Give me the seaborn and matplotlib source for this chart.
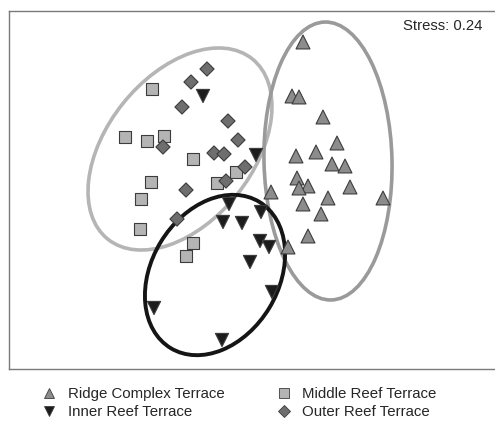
import pandas as pd
import matplotlib
matplotlib.use('Agg')
import matplotlib.pyplot as plt
from matplotlib.patches import Ellipse
from matplotlib.lines import Line2D
import seaborn as sns

# 读取的点坐标 (NMDS 排序, 按图中位置估计)
ridge_x = [303, 292, 299, 323, 337, 316, 296, 332, 345, 297, 308, 299, 350, 271, 328, 303, 383, 321, 308, 288]
ridge_y = [42, 96, 97, 117, 143, 152, 156, 164, 166, 178, 186, 188, 187, 192, 198, 204, 198, 214, 236, 247]

middle_x = [152, 125, 147, 164, 193, 236, 151, 217, 141, 140, 193, 186]
middle_y = [89, 137, 141, 136, 159, 172, 182, 183, 199, 229, 243, 256]

outer_x = [207, 191, 182, 228, 238, 163, 214, 224, 245, 226, 186, 177]
outer_y = [69, 82, 107, 121, 140, 147, 153, 154, 167, 181, 190, 219]

inner_x = [203, 256, 229, 261, 223, 242, 260, 269, 250, 272, 154, 222]
inner_y = [96, 155, 204, 212, 222, 223, 241, 247, 262, 292, 308, 340]

groups = ['Ridge Complex Terrace', 'Inner Reef Terrace', 'Middle Reef Terrace', 'Outer Reef Terrace']

# 椭圆: 中心, 宽, 高, 角度
ell_groups = ['Middle Reef Terrace', 'Ridge Complex Terrace', 'Inner Reef Terrace']
ell_cx = [180, 328, 215]
ell_cy = [149, 161, 275]
ell_w = [231, 278, 171]
ell_h = [146, 128, 127]
ell_angle = [-51.3, 88.7, -58.8]
stress = 0.24

sns.set_style('white')
plt.rcParams['font.family'] = ['Liberation Sans', 'DejaVu Sans']

palette = {'Ridge Complex Terrace': '#8c8c8c', 'Inner Reef Terrace': '#1c1c1c',
           'Middle Reef Terrace': '#b4b4b4', 'Outer Reef Terrace': '#6e6e6e'}
markers = {'Ridge Complex Terrace': '^', 'Inner Reef Terrace': 'v',
           'Middle Reef Terrace': 's', 'Outer Reef Terrace': 'D'}
sizes = {'Ridge Complex Terrace': 100, 'Inner Reef Terrace': 90,
         'Middle Reef Terrace': 72, 'Outer Reef Terrace': 52}
leg_sizes = {'Ridge Complex Terrace': 7.5, 'Inner Reef Terrace': 7.5,
             'Middle Reef Terrace': 6.5, 'Outer Reef Terrace': 5.8}
ell_colors = {'Middle Reef Terrace': '#b5b5b5', 'Ridge Complex Terrace': '#9a9a9a',
              'Inner Reef Terrace': '#151515'}

df = pd.concat([
    pd.DataFrame({'NMDS1': ridge_x, 'NMDS2': ridge_y, 'group': groups[0]}),
    pd.DataFrame({'NMDS1': inner_x, 'NMDS2': inner_y, 'group': groups[1]}),
    pd.DataFrame({'NMDS1': middle_x, 'NMDS2': middle_y, 'group': groups[2]}),
    pd.DataFrame({'NMDS1': outer_x, 'NMDS2': outer_y, 'group': groups[3]}),
], ignore_index=True)

fig = plt.figure(figsize=(4.95, 4.24), dpi=100)
ax = fig.add_axes([9 / 495, 1 - 369 / 424, 485 / 495, 358 / 424])

# 椭圆
for g, cx, cy, w, h, a in zip(ell_groups, ell_cx, ell_cy, ell_w, ell_h, ell_angle):
    lw = 2.8 if g == 'Inner Reef Terrace' else 2.6
    ax.add_patch(Ellipse((cx, cy), w, h, angle=a, fill=False, ec=ell_colors[g], lw=lw, zorder=2))

# 散点
sns.scatterplot(data=df, x='NMDS1', y='NMDS2', hue='group', style='group', size='group',
                palette=palette, markers=markers, sizes=sizes, edgecolor='#3c3c3c',
                linewidth=0.8, legend=False, ax=ax, zorder=3)

ax.set_xlim(9, 494)
ax.set_ylim(369, 11)
ax.set_xticks([])
ax.set_yticks([])
ax.set_xlabel('')
ax.set_ylabel('')
for s in ['left', 'top', 'bottom']:
    ax.spines[s].set_color('#7a7a7a')
    ax.spines[s].set_linewidth(1.0)
ax.spines['right'].set_visible(False)

fig.text(482 / 495, 1 - 29.5 / 424, f'Stress: {stress}', ha='right', va='baseline', fontsize=10.7)

# 图例
handles = [Line2D([], [], ls='none', marker=markers[g], markersize=leg_sizes[g],
                  markerfacecolor=palette[g], markeredgecolor='#3c3c3c', markeredgewidth=0.6)
           for g in groups]
fig.legend(handles, groups, ncol=2, loc='upper left', bbox_to_anchor=(41.5 / 495, 1 - 387 / 424),
           frameon=False, fontsize=10.8, handlelength=1.0, handletextpad=0.75,
           columnspacing=3.45, labelspacing=0.28, borderpad=0, borderaxespad=0)

plt.savefig('out.png', dpi=100)
